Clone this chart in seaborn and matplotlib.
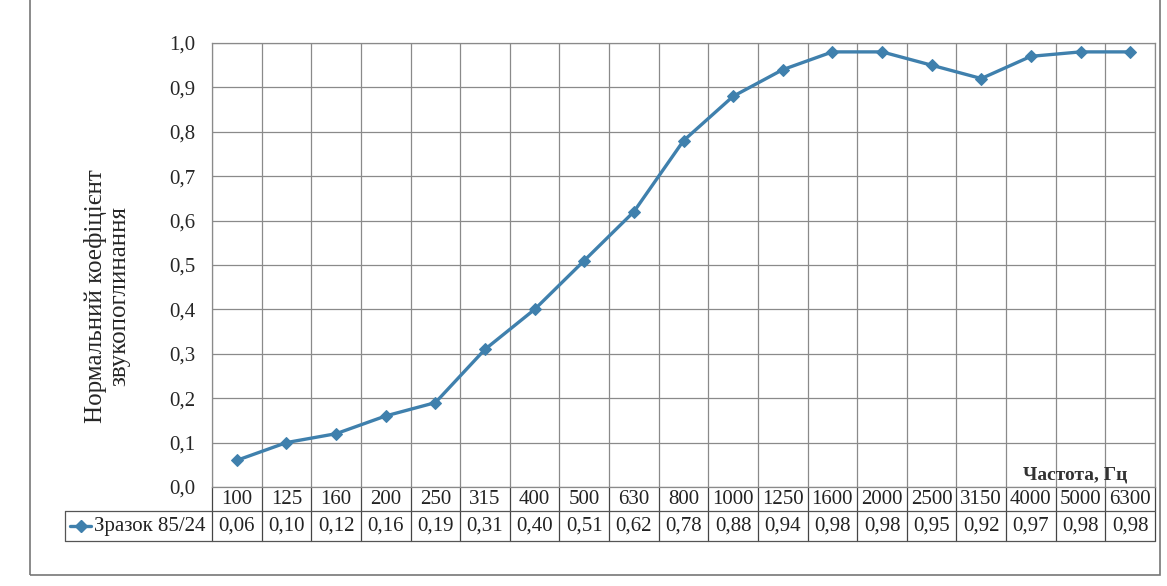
import numpy as np
import pandas as pd
import matplotlib.pyplot as plt
import matplotlib.transforms as mtransforms
from matplotlib.lines import Line2D
from matplotlib.patches import Rectangle
import seaborn as sns

# Частоти та коефіцієнт звукопоглинання
freqs = ['100', '125', '160', '200', '250', '315', '400', '500', '630', '800',
         '1000', '1250', '1600', '2000', '2500', '3150', '4000', '5000', '6300']
values = [0.06, 0.10, 0.12, 0.16, 0.19, 0.31, 0.40, 0.51, 0.62, 0.78,
          0.88, 0.94, 0.98, 0.98, 0.95, 0.92, 0.97, 0.98, 0.98]
series_name = 'Зразок 85/24'
yticks = [0.0, 0.1, 0.2, 0.3, 0.4, 0.5, 0.6, 0.7, 0.8, 0.9, 1.0]

df = pd.DataFrame({'pos': np.arange(len(freqs)), 'freq': freqs, 'alpha': values})

sns.set_style('white')
plt.rcParams['font.family'] = ['Liberation Serif', 'DejaVu Serif']

line_color = '#3f80ad'
grid_color = '#8a8a8a'

fig = plt.figure(figsize=(11.67, 5.86), dpi=100)
ax = fig.add_axes([0.1817, 0.169, 0.808, 0.7576])

sns.lineplot(data=df, x='pos', y='alpha', ax=ax, color=line_color, linewidth=2.4,
             marker='D', markersize=6, markeredgecolor=line_color)

ax.set_xlim(-0.5, len(freqs) - 0.5)
ax.set_ylim(0, 1.0)
ax.set_yticks(yticks)
ax.set_yticklabels([f'{v:.1f}'.replace('.', ',') for v in yticks], fontsize=15)
ax.set_xticks(np.arange(len(freqs) + 1) - 0.5)
ax.set_xticklabels([])
ax.tick_params(axis='x', length=0)
ax.tick_params(axis='y', length=6, color='#555555', pad=6)
ax.grid(True, axis='both', color=grid_color, linewidth=0.9)
for s in ax.spines.values():
    s.set_color(grid_color)
    s.set_linewidth(0.9)
ax.set_xlabel('')
ax.set_ylabel('Нормальний коефіцієнт\nзвукопоглинання', fontsize=18, linespacing=1.05)
ax.yaxis.set_label_coords(-0.087, 0.43)

ax.text(0.971, 0.027, 'Частота, Гц', transform=ax.transAxes, ha='right', va='center',
        fontsize=14, fontweight='bold', color='#333333')

# Таблиця даних під графіком
trans = mtransforms.blended_transform_factory(ax.transData, ax.transAxes)
row1_top, row1_bot, row2_bot = 0.0, -0.055, -0.122
left_x = -0.156
for b in np.arange(len(freqs) + 1) - 0.5:
    ax.plot([b, b], [row1_top, row2_bot], transform=trans, color='#444444',
            linewidth=0.9, clip_on=False)
ax.plot([left_x, 1], [row1_bot, row1_bot], transform=ax.transAxes, color='#555555',
        linewidth=0.9, clip_on=False)
ax.plot([left_x, 1], [row2_bot, row2_bot], transform=ax.transAxes, color='#555555',
        linewidth=0.9, clip_on=False)
ax.plot([left_x, left_x], [row1_bot, row2_bot], transform=ax.transAxes, color='#555555',
        linewidth=0.9, clip_on=False)

for i, (f, v) in enumerate(zip(freqs, values)):
    ax.text(i, (row1_top + row1_bot) / 2, f, transform=trans, ha='center', va='center',
            fontsize=15, color='#222222')
    ax.text(i, (row1_bot + row2_bot) / 2, f'{v:.2f}'.replace('.', ','), transform=trans,
            ha='center', va='center', fontsize=15, color='#222222')

ymid = (row1_bot + row2_bot) / 2
ax.add_line(Line2D([left_x + 0.005, left_x + 0.0165, left_x + 0.028], [ymid, ymid, ymid],
                   transform=ax.transAxes, color=line_color, linewidth=2.4, marker='D',
                   markersize=6, markevery=[1], clip_on=False))
ax.text(left_x + 0.031, ymid, series_name, transform=ax.transAxes, ha='left',
        va='center', fontsize=15, color='#222222')

# Рамка навколо діаграми
fig.patches.append(Rectangle((0.026, 0.018), 0.968, 0.99, transform=fig.transFigure,
                             fill=False, edgecolor='#777777', linewidth=1.2))

fig.savefig('out.png', dpi=100)
